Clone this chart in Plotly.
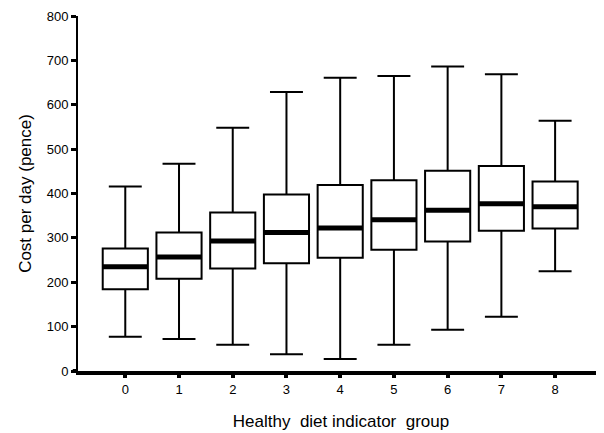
import plotly.graph_objects as go

groups = [0, 1, 2, 3, 4, 5, 6, 7, 8]
upper = [416, 467, 548, 629, 661, 665, 686, 669, 564]
q3 = [276, 312, 357, 398, 419, 430, 451, 462, 427]
median = [235, 257, 293, 312, 322, 341, 362, 377, 370]
q1 = [184, 208, 231, 243, 255, 273, 292, 316, 321]
lower = [77, 72, 59, 38, 27, 59, 93, 122, 225]
y_ticks = [0, 100, 200, 300, 400, 500, 600, 700, 800]

font = "Liberation Sans, Arial, Helvetica, sans-serif"

fig = go.Figure()
fig.add_trace(go.Box(
    x=groups, q1=q1, median=median, q3=q3,
    lowerfence=lower, upperfence=upper,
    width=0.84, whiskerwidth=0.73,
    fillcolor="white", line=dict(color="black", width=2),
    boxpoints=False, hoverinfo="skip", showlegend=False,
))
fig.add_trace(go.Scatter(
    x=groups, y=median, mode="markers",
    marker=dict(symbol="line-ew-open", size=32, color="black",
                line=dict(color="black", width=5)),
    hoverinfo="skip", showlegend=False,
))

fig.update_layout(
    width=596, height=425,
    margin=dict(l=70, r=0, t=8, b=62, autoexpand=False),
    paper_bgcolor="white", plot_bgcolor="white",
    font=dict(family=font, color="black", size=13),
    xaxis=dict(
        range=[-0.88, 8.91], tickmode="array", tickvals=groups,
        ticktext=[str(g) for g in groups],
        showgrid=False, zeroline=False,
        showline=True, linecolor="black", linewidth=4,
        ticks="outside", ticklen=3, tickwidth=4, tickcolor="black",
        tickfont=dict(size=13),
        title=dict(text="Healthy  diet indicator  group", font=dict(size=17), standoff=21),
    ),
    yaxis=dict(
        range=[0, 800], tickmode="array", tickvals=y_ticks,
        showgrid=False, zeroline=False,
        showline=True, linecolor="black", linewidth=2,
        ticks="outside", ticklen=5, tickwidth=3, tickcolor="black",
        tickfont=dict(size=13),
        title=dict(text="Cost per day (pence)", font=dict(size=17), standoff=11),
    ),
    shapes=[dict(type="line", xref="paper", yref="paper", x0=-0.01, x1=0.0,
                 y0=0, y1=0, line=dict(color="black", width=4))],
)

fig.write_html("out.html")
